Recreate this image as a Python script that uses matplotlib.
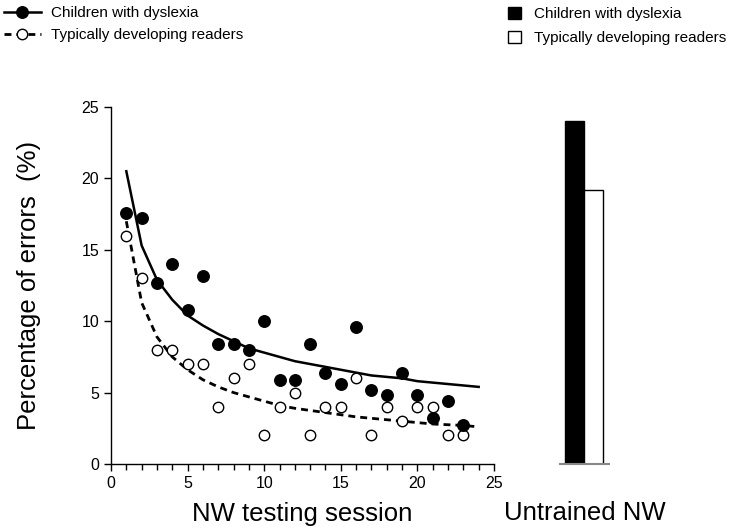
import matplotlib
matplotlib.use("Agg")
import matplotlib.pyplot as plt
from matplotlib.lines import Line2D
from matplotlib.patches import Patch
from matplotlib.ticker import MultipleLocator

plt.rcParams['font.family'] = ['Liberation Sans', 'DejaVu Sans']

# sessions and per-session error percentages
sessions = list(range(1, 24))
dyslexia = [17.6, 17.2, 12.7, 14.0, 10.8, 13.2, 8.4, 8.4, 8.0, 10.0, 5.9, 5.9,
            8.4, 6.4, 5.6, 9.6, 5.2, 4.8, 6.4, 4.8, 3.2, 4.4, 2.7]
typical = [16.0, 13.0, 8.0, 8.0, 7.0, 7.0, 4.0, 6.0, 7.0, 2.0, 4.0, 5.0,
           2.0, 4.0, 4.0, 6.0, 2.0, 4.0, 3.0, 4.0, 4.0, 2.0, 2.0]

# fitted trend curves at each session
fit_sessions = list(range(1, 25))
dyslexia_fit = [20.5, 15.3, 12.9, 11.5, 10.4, 9.7, 9.1, 8.6, 8.1, 7.8, 7.5, 7.2,
                7.0, 6.8, 6.6, 6.4, 6.2, 6.1, 6.0, 5.8, 5.7, 5.6, 5.5, 5.4]
typical_fit = [17.0, 11.3, 8.9, 7.5, 6.6, 5.9, 5.4, 5.0, 4.7, 4.4, 4.1, 3.9,
               3.75, 3.6, 3.45, 3.3, 3.2, 3.1, 3.0, 2.9, 2.8, 2.75, 2.7, 2.6]

# untrained nonwords
groups = ["Children with dyslexia", "Typically developing readers"]
untrained = [24.0, 19.2]

W, H = 729, 532
fig = plt.figure(figsize=(W / 100, H / 100), dpi=100)

ax = fig.add_axes([111 / W, 1 - 464 / H, 383 / W, 357 / H])
ax.plot(fit_sessions, dyslexia_fit, color='black', lw=1.8, zorder=2)
ax.plot(fit_sessions, typical_fit, color='black', lw=2, linestyle=(0, (2.5, 1.8)), zorder=2)
ax.plot(sessions, typical, 'o', ms=7.5, mfc='white', mec='black', mew=1, zorder=3)
ax.plot(sessions, dyslexia, 'o', ms=8.3, color='black', zorder=4)

ax.set_xlim(0, 25)
ax.set_ylim(0, 25)
ax.xaxis.set_major_locator(MultipleLocator(5))
ax.xaxis.set_minor_locator(MultipleLocator(1))
ax.yaxis.set_major_locator(MultipleLocator(5))
ax.tick_params(which='both', direction='out', width=1, labelsize=11.5, color='black')
ax.tick_params(which='major', length=5)
ax.tick_params(which='minor', length=4)
for s in ['top', 'right']:
    ax.spines[s].set_visible(False)
for s in ['left', 'bottom']:
    ax.spines[s].set_linewidth(1)
ax.set_xlabel("NW testing session", fontsize=18.5, labelpad=8)
ax.set_ylabel("Percentage of errors  (%)", fontsize=18.5, labelpad=29)

# bar panel
ax2 = fig.add_axes([560 / W, 1 - 464 / H, 49 / W, 357 / H])
ax2.bar([0, 1], untrained, width=1, align='edge', color=['black', 'white'],
        edgecolor='black', linewidth=1)
ax2.set_xlim(-0.263, 2.316)
ax2.set_ylim(0, 25)
for s in ['top', 'right', 'left']:
    ax2.spines[s].set_visible(False)
ax2.spines['bottom'].set_color('#888888')
ax2.spines['bottom'].set_linewidth(1.5)
ax2.set_xticks([])
ax2.set_yticks([])
ax2.set_xlabel("Untrained NW", fontsize=18.5, labelpad=27)

# legends
line_handles = [
    Line2D([], [], color='black', lw=1.8, marker='o', ms=8.3),
    Line2D([], [], color='black', lw=2, linestyle=(0, (2.5, 1.8)), marker='o',
           ms=7.5, mfc='white', mec='black', mew=1),
]
fig.legend(handles=line_handles, labels=groups, loc='upper left',
           bbox_to_anchor=(4 / W, 1 - 6 / H), frameon=False, fontsize=11,
           borderpad=0, borderaxespad=0, handlelength=2.4, handletextpad=0.65,
           labelspacing=0.55, numpoints=1)

bar_handles = [
    Patch(facecolor='black', edgecolor='black', lw=1),
    Patch(facecolor='white', edgecolor='black', lw=1),
]
fig.legend(handles=bar_handles, labels=groups, loc='upper left',
           bbox_to_anchor=(508 / W, 1 - 7 / H), frameon=False, fontsize=11,
           borderpad=0, borderaxespad=0, handlelength=0.85, handleheight=0.85,
           handletextpad=0.85, labelspacing=0.6)

fig.savefig("out.png", dpi=100)
